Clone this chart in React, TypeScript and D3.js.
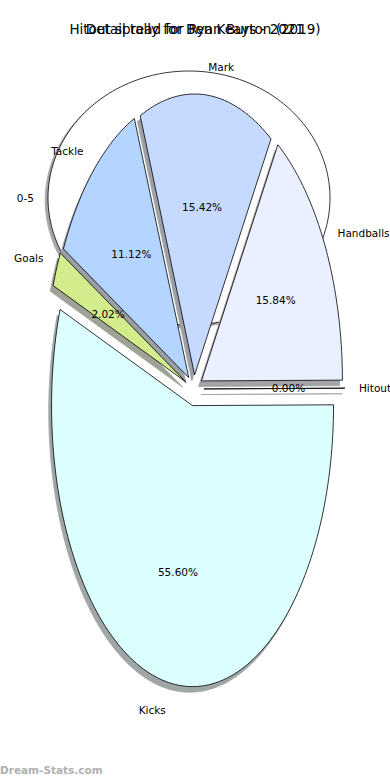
import React, { useEffect, useRef } from 'react';
import * as d3 from 'd3';

const W = 390;
const H = 780;

// two figures were saved onto the same canvas, so both titles overlap
const titles = ['Hitout spread for Ryan Burton (2019)', 'Detail tally for Ben Keays - 2021'];

// back chart (2019)
const backLabels = ['0-5'];
const backValues = [100];
const backColors = ['#ffffff'];
const backExplode = [0];

// front chart (2021)
const labels = ['Kicks', 'Hitout', 'Handballs', 'Mark', 'Tackle', 'Goals'];
const values = [55.6, 0, 15.84, 15.42, 11.12, 2.02];
const colors = ['#dbffff', '#e4e4ff', '#eaf0ff', '#c6daff', '#b3d5ff', '#d3ec8c'];
const explode = [0.06, 0.07, 0.06, 0.05, 0.055, 0.065];

const FONT = 'DejaVu Sans, sans-serif';

type Geo = { cx: number; cy: number; rx: number; ry: number; start: number };

const frontGeo: Geo = { cx: 194, cy: 389, rx: 141, ry: 281, start: 160 };
const backGeo: Geo = { cx: 189, cy: 198, rx: 141, ry: 127, start: 0 };

function shadowOf(c: string) {
  const rgb = d3.rgb(c);
  return d3.rgb(255 * 0.5 + rgb.r * 0.15, 255 * 0.5 + rgb.g * 0.15, 255 * 0.5 + rgb.b * 0.15).formatHex();
}

function drawPie(
  g: d3.Selection<SVGGElement, unknown, null, undefined>,
  geo: Geo,
  labs: string[],
  vals: number[],
  cols: string[],
  expl: number[]
) {
  const x = d3.scaleLinear().domain([-1, 1]).range([geo.cx - geo.rx, geo.cx + geo.rx]);
  const y = d3.scaleLinear().domain([-1, 1]).range([geo.cy + geo.ry, geo.cy - geo.ry]);
  const total = d3.sum(vals);
  let a = geo.start;
  const wedges = vals.map((v, i) => {
    const t1 = a;
    const t2 = a + (360 * v) / total;
    a = t2;
    const mid = ((t1 + t2) / 2) * (Math.PI / 180);
    const ox = Math.cos(mid) * expl[i];
    const oy = Math.sin(mid) * expl[i];
    return { i, t1, t2, mid, ox, oy };
  });

  const line = d3
    .line<[number, number]>()
    .x((d) => x(d[0]))
    .y((d) => y(d[1]));

  const wedgePath = (w: (typeof wedges)[number], dx: number, dy: number) => {
    const full = w.t2 - w.t1 >= 359.999;
    const n = Math.max(2, Math.ceil(Math.abs(w.t2 - w.t1) / 1.5));
    const pts: [number, number][] = d3.range(n + 1).map((k) => {
      const t = ((w.t1 + ((w.t2 - w.t1) * k) / n) * Math.PI) / 180;
      return [w.ox + dx + Math.cos(t), w.oy + dy + Math.sin(t)];
    });
    if (full) return line(pts) + 'Z';
    return line([[w.ox + dx, w.oy + dy], ...pts]) + 'Z';
  };

  // shadows go under every wedge
  g.selectAll('path.shadow')
    .data(wedges)
    .join('path')
    .attr('class', 'shadow')
    .attr('d', (w) => wedgePath(w, -0.02, -0.02))
    .attr('fill', (w) => shadowOf(cols[w.i]))
    .attr('stroke', (w) => shadowOf(cols[w.i]))
    .attr('stroke-width', 0.8);

  g.selectAll('path.wedge')
    .data(wedges)
    .join('path')
    .attr('class', 'wedge')
    .attr('d', (w) => wedgePath(w, 0, 0))
    .attr('fill', (w) => cols[w.i])
    .attr('stroke', '#000')
    .attr('stroke-width', 0.8)
    .attr('stroke-linejoin', 'miter');

  g.selectAll('text.pct')
    .data(wedges)
    .join('text')
    .attr('class', 'pct')
    .attr('x', (w) => x(w.ox + 0.6 * Math.cos(w.mid)))
    .attr('y', (w) => y(w.oy + 0.6 * Math.sin(w.mid)))
    .attr('text-anchor', 'middle')
    .attr('dominant-baseline', 'central')
    .attr('font-family', FONT)
    .attr('font-size', 10.5)
    .attr('fill', '#000')
    .text((w) => ((vals[w.i] / total) * 100).toFixed(2) + '%');

  g.selectAll('text.lab')
    .data(wedges)
    .join('text')
    .attr('class', 'lab')
    .attr('x', (w) => x(w.ox + 1.1 * Math.cos(w.mid)))
    .attr('y', (w) => y(w.oy + 1.1 * Math.sin(w.mid)))
    .attr('text-anchor', (w) => (Math.cos(w.mid) > 0 ? 'start' : 'end'))
    .attr('dominant-baseline', 'central')
    .attr('font-family', FONT)
    .attr('font-size', 10.5)
    .attr('fill', '#000')
    .text((w) => labs[w.i]);
}

export default function App() {
  const ref = useRef<SVGSVGElement>(null);

  useEffect(() => {
    const el = ref.current;
    if (!el) return;
    const svg = d3.select(el);
    svg.selectAll('*').remove();

    svg.append('rect').attr('width', W).attr('height', H).attr('fill', '#fff');

    const back = svg.append('g');
    drawPie(back, backGeo, backLabels, backValues, backColors, backExplode);

    const front = svg.append('g');
    drawPie(front, frontGeo, labels, values, colors, explode);

    svg
      .selectAll('text.title')
      .data(titles)
      .join('text')
      .attr('class', 'title')
      .attr('x', W / 2)
      .attr('y', 29)
      .attr('text-anchor', 'middle')
      .attr('dominant-baseline', 'central')
      .attr('font-family', FONT)
      .attr('font-size', 13.5)
      .attr('fill', '#000')
      .text((d) => d);

    svg
      .append('text')
      .attr('x', 0)
      .attr('y', 770)
      .attr('dominant-baseline', 'central')
      .attr('font-family', FONT)
      .attr('font-weight', 'bold')
      .attr('font-size', 10.5)
      .attr('fill', '#b0b0b0')
      .text('Dream-Stats.com');
  }, []);

  return (
    <svg
      ref={ref}
      width={W}
      height={H}
      style={{ position: 'absolute', left: 0, top: 0, display: 'block' }}
    />
  );
}
